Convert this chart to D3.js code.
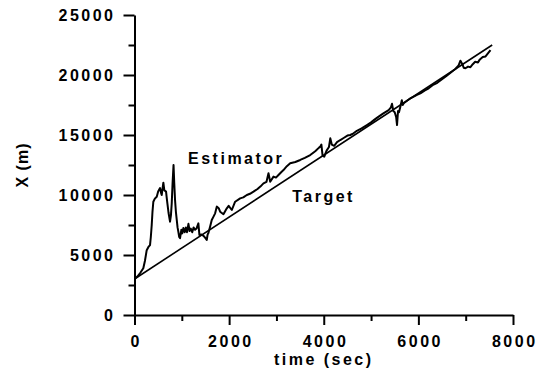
<!DOCTYPE html>
<meta charset="utf-8">
<style type="text/css">
    body{
      margin: 0;
      background: #fff;
    }
    text {
      font-family: "Liberation Sans", Arial, sans-serif;
      font-weight: bold;
      font-size: 16px;
      letter-spacing: 2.5px;
      fill: #000;
    }
    .axis path, .axis line {
      stroke: #000;
      stroke-width: 2px;
    }
</style>
<body>
<script src="https://cdn.jsdelivr.net/npm/d3@7"></script>
<script>

//estimator track: time (sec) and X (m)
var estTime = [0, 60, 120, 186, 220, 258, 300, 328, 345, 364, 380, 398, 430, 470, 500, 540, 560, 575, 595, 610,
  630, 667, 680, 695, 720, 751, 770, 787, 805, 825, 840, 857, 875, 893, 910, 927, 945, 963, 990, 1010,
  1033, 1060, 1085, 1110, 1140, 1165, 1190, 1220, 1250, 1280, 1310, 1350, 1372, 1420, 1460, 1500, 1527, 1545, 1562, 1600,
  1633, 1670, 1704, 1739, 1780, 1810, 1880, 1951, 1990, 2057, 2127, 2233, 2300, 2374, 2440, 2515, 2600, 2660, 2726, 2790,
  2832, 2868, 2938, 2990, 3043, 3100, 3149, 3220, 3291, 3400, 3503, 3600, 3714, 3820, 3900, 3926, 3950, 3975, 4011, 4060,
  4110, 4138, 4170, 4220, 4280, 4349, 4420, 4500, 4560, 4630, 4700, 4800, 4913, 5000, 5080, 5160, 5260, 5372, 5420, 5443,
  5470, 5500, 5530, 5549, 5570, 5590, 5619, 5650, 5670, 5690, 5760, 5831, 5900, 5970, 6042, 6130, 6218, 6300, 6400, 6500,
  6600, 6700, 6780, 6850, 6889, 6930, 6960, 6995, 7050, 7100, 7150, 7200, 7260, 7300, 7360, 7420, 7470, 7524];

var estX = [3000, 3200, 3500, 3900, 4500, 5400, 5700, 5830, 6500, 7500, 8600, 9440, 9700, 9860, 10300, 10580, 10200, 10000, 10600, 11030,
  10400, 10280, 9800, 9300, 8500, 7780, 8300, 9300, 11000, 12500, 11000, 9580, 8600, 7920, 7300, 6940, 6500, 6400, 7100, 6800,
  7250, 6900, 7300, 6900, 7600, 7000, 7200, 6900, 7300, 7100, 7200, 7640, 6670, 6700, 6600, 6400, 6250, 6700, 6830, 7400,
  7920, 8200, 8470, 9030, 8900, 8610, 8400, 8890, 9100, 8750, 9440, 9720, 9800, 10000, 10100, 10280, 10500, 10700, 10970, 11100,
  11810, 11110, 11530, 11450, 11670, 11900, 12080, 12400, 12640, 12750, 12920, 13100, 13330, 13650, 13950, 14030, 14200, 13300, 13190, 13700,
  14000, 14720, 14200, 14100, 14400, 14580, 14750, 14950, 15000, 15140, 15350, 15550, 15830, 16050, 16300, 16530, 16800, 17080, 17300, 17600,
  17000, 16900, 16500, 15830, 17000, 16900, 17360, 17900, 17500, 17640, 17850, 18060, 18200, 18350, 18470, 18700, 18890, 19150, 19350, 19650,
  19950, 20250, 20500, 20800, 21190, 20900, 20600, 20560, 20700, 20650, 20900, 21100, 21050, 21300, 21500, 21550, 21800, 22080];

//target: straight track
var targetTime = [0, 7560];
var targetX    = [3000, 22500];

//ticks
var xMajor = [0, 2000, 4000, 6000, 8000];
var xMinor = [1000, 3000, 5000, 7000];
var yMajor = [0, 5000, 10000, 15000, 20000, 25000];
var yMinor = [2500, 7500, 12500, 17500, 22500];

//labels placed in data units
var labels = [
  {text: "Estimator", t: 1132, v: 12580},
  {text: "Target",    t: 3333, v: 9420}
];

var width = 545, height = 376;

var svg = d3.select("body")
  .append("svg")
  .attr("width", width)
  .attr("height", height);

var x = d3.scaleLinear().domain([0, 8000]).range([134.5, 513]);
var y = d3.scaleLinear().domain([0, 25000]).range([315, 15]);

//x axis
var xAxis = svg.append("g")
  .attr("class", "axis")
  .attr("transform", "translate(0," + y(0) + ")")
  .call(d3.axisBottom(x).tickValues(xMajor).tickSize(10).tickSizeOuter(0).tickFormat(d3.format("d")));

xAxis.selectAll("text")
  .attr("y", 32)
  .attr("dy", null)
  .attr("dx", 1.25);

svg.append("g")
  .attr("class", "axis")
  .attr("transform", "translate(0," + y(0) + ")")
  .call(d3.axisBottom(x).tickValues(xMinor).tickSize(6).tickFormat(""))
  .select(".domain").remove();

//y axis
svg.append("g")
  .attr("class", "axis")
  .attr("transform", "translate(" + x(0) + ",0)")
  .call(d3.axisLeft(y).tickValues(yMajor).tickSize(11).tickPadding(8).tickSizeOuter(0).tickFormat(d3.format("d")));

svg.append("g")
  .attr("class", "axis")
  .attr("transform", "translate(" + x(0) + ",0)")
  .call(d3.axisLeft(y).tickValues(yMinor).tickSize(6).tickFormat(""))
  .select(".domain").remove();

//axis titles
svg.append("text")
  .attr("x", (x(0) + x(8000)) / 2)
  .attr("y", 365)
  .attr("text-anchor", "middle")
  .text("time (sec)");

svg.append("text")
  .attr("transform", "translate(28," + (y(0) + y(25000)) / 2 + ") rotate(-90)")
  .attr("text-anchor", "middle")
  .style("letter-spacing", "1px")
  .text("X (m)");

//lines
var line = d3.line()
  .x(function(d){ return x(d[0]); })
  .y(function(d){ return y(d[1]); });

var target = targetTime.map(function(t, i){ return [t, targetX[i]]; });
var estimator = estTime.map(function(t, i){ return [t, estX[i]]; });

svg.append("path")
  .datum(target)
  .attr("d", line)
  .attr("fill", "none")
  .attr("stroke", "#000")
  .attr("stroke-width", 1.6);

svg.append("path")
  .datum(estimator)
  .attr("d", line)
  .attr("fill", "none")
  .attr("stroke", "#000")
  .attr("stroke-width", 2)
  .attr("stroke-linejoin", "round");

//labels
svg.selectAll(".label")
  .data(labels)
  .enter().append("text")
  .attr("class", "label")
  .attr("x", function(d){ return x(d.t); })
  .attr("y", function(d){ return y(d.v); })
  .text(function(d){ return d.text; });

</script>
